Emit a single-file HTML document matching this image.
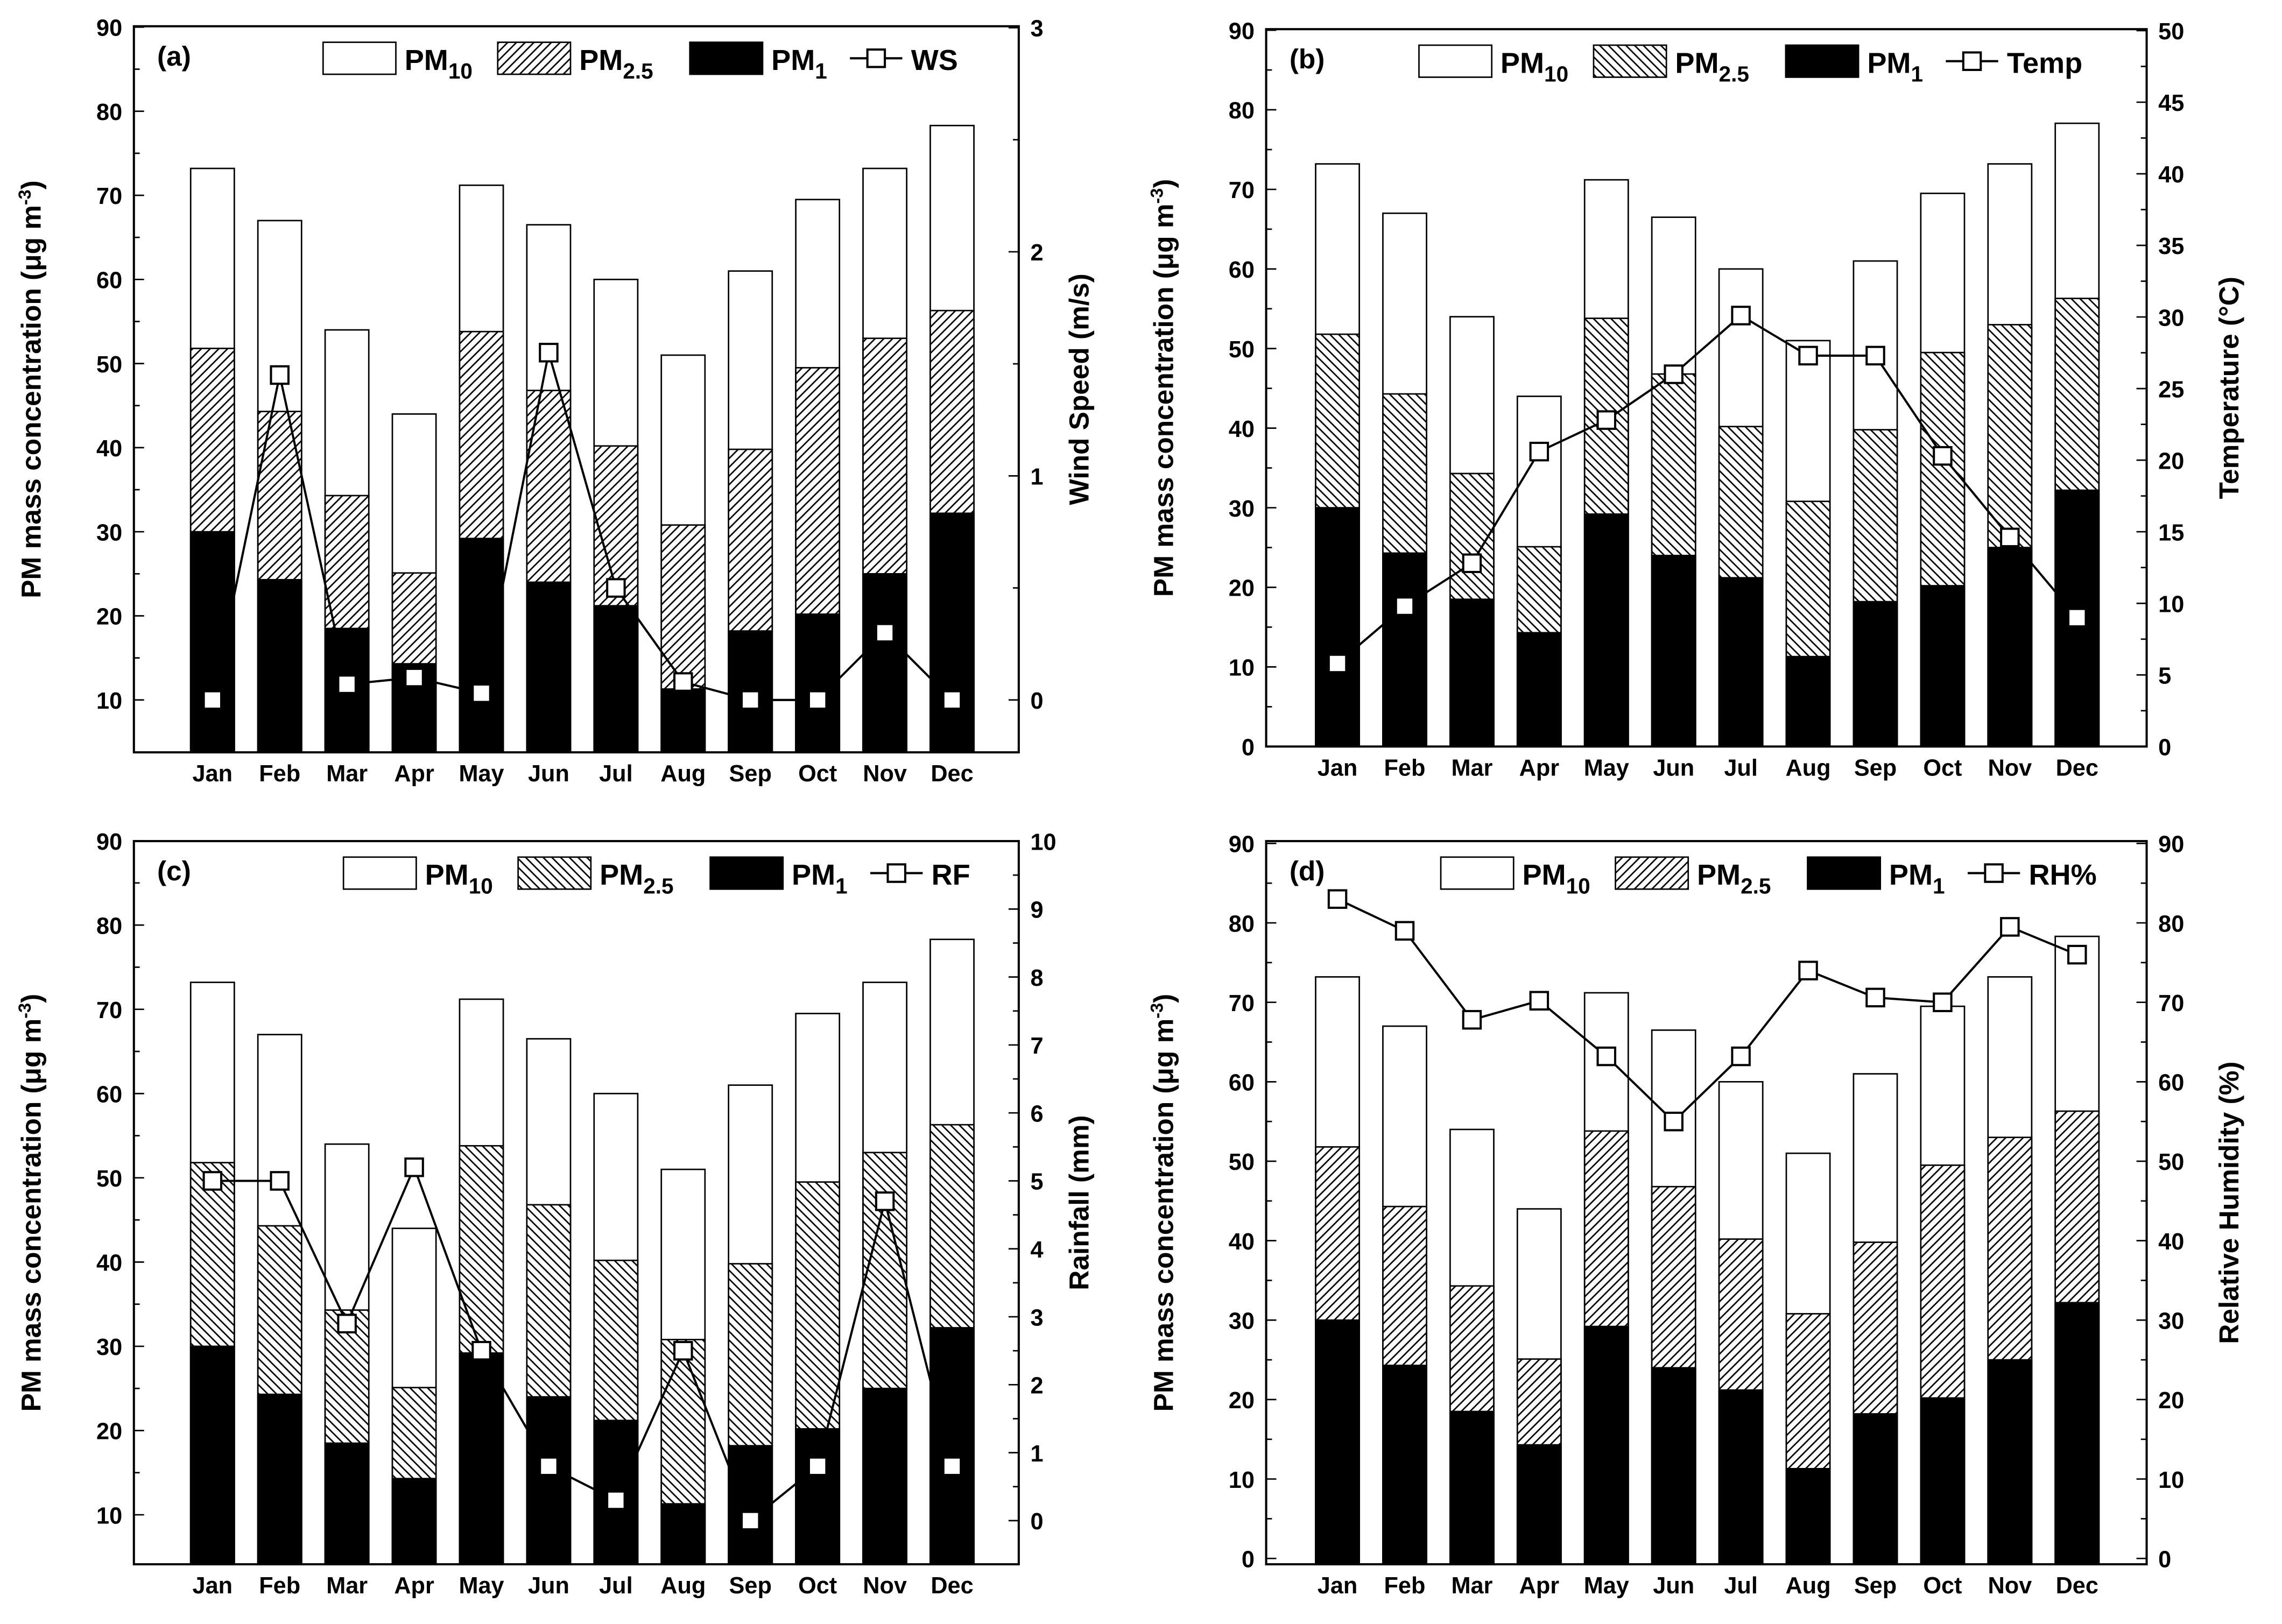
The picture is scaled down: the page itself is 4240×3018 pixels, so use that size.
<!DOCTYPE html>
<html><head><meta charset="utf-8"><style>html,body{margin:0;padding:0;background:#fff}svg{display:block}text{font-family:"Liberation Sans",Arial,sans-serif;font-weight:bold;fill:#000}</style></head>
<body>
<svg id="s" width="4240" height="3018" viewBox="0 0 1568 1116" xmlns="http://www.w3.org/2000/svg">
<defs>
<pattern id="hf" patternUnits="userSpaceOnUse" width="6" height="6"><rect width="6" height="6" fill="#fff"/><path d="M-1,7 L7,-1 M-1,1 L1,-1 M5,7 L7,5" stroke="#000" stroke-width="1"/></pattern>
<pattern id="hb" patternUnits="userSpaceOnUse" width="6" height="6"><rect width="6" height="6" fill="#fff"/><path d="M-1,-1 L7,7 M5,-1 L7,1 M-1,5 L1,7" stroke="#000" stroke-width="1"/></pattern>
</defs>
</svg>
<script>
const months=["Jan","Feb","Mar","Apr","May","Jun","Jul","Aug","Sep","Oct","Nov","Dec"];
const pm10=[73.2,67,54,44,71.2,66.5,60,51,61,69.5,73.2,78.3];
const pm25=[51.8,44.3,34.3,25.1,53.8,46.8,40.2,30.8,39.8,49.5,53,56.3];
const pm1=[30,24.3,18.5,14.3,29.2,24,21.2,11.3,18.2,20.2,25,32.2];
const ws=[0,1.45,0.07,0.1,0.03,1.55,0.5,0.08,0,0,0.3,0];
const temp=[5.8,9.8,12.8,20.6,22.8,26,30.1,27.3,27.3,20.3,14.6,9];
const rf=[5,5,2.9,5.2,2.5,0.8,0.3,2.5,0,0.8,4.7,0.8];
const rh=[83,79,67.8,70.2,63.2,55,63.2,74,70.6,70,79.5,76];
const leftTicksA=[10,20,30,40,50,60,70,80,90];
const leftTicksB=[0,10,20,30,40,50,60,70,80,90];
const wsTicks=[0,1,2,3], tempTicks=[0,5,10,15,20,25,30,35,40,45,50], rfTicks=[0,1,2,3,4,5,6,7,8,9,10], rhTicks=[0,10,20,30,40,50,60,70,80,90];
const svg=document.getElementById('s');const NS="http://www.w3.org/2000/svg";
function el(t,a,p){const e=document.createElementNS(NS,t);for(const k in a)e.setAttribute(k,a[k]);(p||svg).appendChild(e);return e;}
const panels=[
 {id:'a',x0:92,x1:700,yt:18,yb:517,mx0:146,L:v=>481-(v-10)*5.78,R:v=>481-v*154,lt:leftTicksA,rt:wsTicks,rminor:0.5,lminor:5,line:ws,hatch:'hf',rtitle:'Wind Speed (m/s)',ltx:28,rtx:748,lab:'WS',lgx:222},
 {id:'b',x0:870,x1:1475,yt:20,yb:513,mx0:919,L:v=>513-v*5.47,R:v=>513-v*9.84,lt:leftTicksB,rt:tempTicks,rminor:2.5,lminor:5,line:temp,hatch:'hb',rtitle:'Temperature (°C)',ltx:806,rtx:1538,lab:'Temp',lgx:975},
 {id:'c',x0:92,x1:700,yt:578,yb:1075,mx0:146,L:v=>1041-(v-10)*5.79,R:v=>1045-v*46.7,lt:leftTicksA,rt:rfTicks,rminor:0.5,lminor:5,line:rf,hatch:'hb',rtitle:'Rainfall (mm)',ltx:28,rtx:748,lab:'RF',lgx:236},
 {id:'d',x0:870,x1:1475,yt:578,yb:1075,mx0:919,L:v=>1071-v*5.46,R:v=>1071-v*5.46,lt:leftTicksB,rt:rhTicks,rminor:5,lminor:5,line:rh,hatch:'hf',rtitle:'Relative Humidity (%)',ltx:806,rtx:1538,lab:'RH%',lgx:990}];
panels.forEach(p=>{
 const g=el('g',{});
 
 
 const X=i=>p.mx0+i*46.2;
 months.forEach((m,i)=>{
  const x=X(i)-15;
  [[pm10,'#fff','pm10'],[pm25,'url(#'+p.hatch+')','pm25'],[pm1,'#000','pm1']].forEach(([arr,f,n])=>{
   const y=Math.max(p.L(arr[i]),p.yt);
   const r=el('rect',{x:x,y:y,width:30,height:p.yb-y,fill:f,stroke:'#000','stroke-width':1},g);
   
   
  });
  const t=el('text',{x:X(i),y:p.yb+20,'text-anchor':'middle','font-size':16},g);t.textContent=m;
  
 });
 const pts=p.line.map((v,i)=>X(i)+','+p.R(v)).join(' ');
 const pl=el('polyline',{points:pts,fill:'none',stroke:'#000','stroke-width':1.5},g);
 
 p.line.forEach((v,i)=>{const r=el('rect',{x:X(i)-6,y:p.R(v)-6,width:12,height:12,fill:'#fff',stroke:'#000','stroke-width':1.5},g);
  });
 el('rect',{x:p.x0,y:p.yt,width:p.x1-p.x0,height:p.yb-p.yt,fill:'none',stroke:'#000','stroke-width':1.5},g);
 p.lt.forEach(v=>{const y=p.L(v);el('line',{x1:p.x0,x2:p.x0+7,y1:y,y2:y,stroke:'#000'},g);
  const t=el('text',{x:p.x0-8,y:y+6,'text-anchor':'end','font-size':16},g);t.textContent=v;
  
  const ym=p.L(v+p.lminor);if(ym>p.yt)el('line',{x1:p.x0,x2:p.x0+4,y1:ym,y2:ym,stroke:'#000'},g);});
 p.rt.forEach(v=>{const y=p.R(v);el('line',{x1:p.x1,x2:p.x1-7,y1:y,y2:y,stroke:'#000'},g);
  const t=el('text',{x:p.x1+8,y:y+6,'font-size':16},g);t.textContent=v;
  
  const ym=p.R(v+p.rminor);if(ym>p.yt)el('line',{x1:p.x1,x2:p.x1-4,y1:ym,y2:ym,stroke:'#000'},g);});
 months.forEach((m,i)=>el('line',{x1:X(i),x2:X(i),y1:p.yb,y2:p.yb-6,stroke:'#000'},g));
 const cy=(p.yt+p.yb)/2;
 const lt=el('text',{x:p.ltx,y:cy,'font-size':19,'text-anchor':'middle',transform:`rotate(-90 ${p.ltx} ${cy})`},g);
 lt.innerHTML='PM mass concentration (μg m<tspan dy="-7" font-size="12">-3</tspan><tspan dy="7">)</tspan>';
 
 const rt=el('text',{x:p.rtx,y:cy,'font-size':19,'text-anchor':'middle',transform:`rotate(-90 ${p.rtx} ${cy})`},g);rt.textContent=p.rtitle;
 
 const pl2=el('text',{x:p.x0+16,y:p.yt+27,'font-size':19},g);pl2.textContent='('+p.id+')';
 
 const ly=p.yt+24;let lx=p.lgx;
 const lg=el('g',{},g);
 [['#fff','PM','10'],['url(#'+p.hatch+')','PM','2.5'],['#000','PM','1']].forEach(([f,a,b])=>{
  el('rect',{x:lx,y:ly-13,width:50,height:22,fill:f,stroke:'#000'},lg);
  const t=el('text',{x:lx+56,y:ly+6,'font-size':20},lg);t.innerHTML=a+'<tspan dy="6" font-size="15">'+b+'</tspan>';
  lx+=56+(b=='2.5'?76:b=='10'?64:54);
 });
 el('line',{x1:lx,x2:lx+36,y1:ly-2,y2:ly-2,stroke:'#000','stroke-width':1.5},lg);
 el('rect',{x:lx+12,y:ly-8,width:12,height:12,fill:'#fff',stroke:'#000','stroke-width':1.5},lg);
 const tl=el('text',{x:lx+42,y:ly+6,'font-size':20},lg);tl.textContent=p.lab;
});
</script>
</body></html>
